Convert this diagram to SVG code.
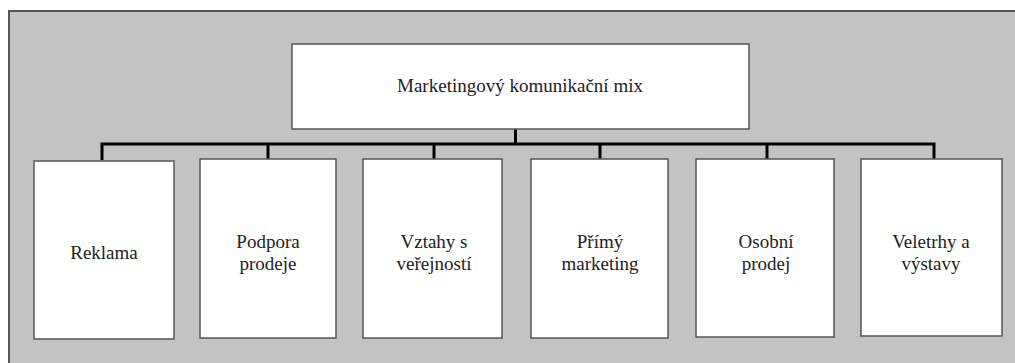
<svg xmlns="http://www.w3.org/2000/svg" width="1015" height="363" viewBox="0 0 1015 363">
<style>
.box{fill:#fff;stroke:#555;stroke-width:1.5}
.t{font-size:19px;fill:#222;text-anchor:middle}
.c{stroke:#000;stroke-width:3;fill:none}
</style>
<rect x="0" y="0" width="1015" height="363" fill="#fff"/>
<rect x="9" y="11" width="1015" height="360" fill="#c3c3c3" stroke="#555" stroke-width="2"/>
<g id="connectors">
<path class="c" d="M515.5 129V144M102 160V144H934V160M268 144V159M434 144V159M600 144V159M767 144V159"/>
</g>
<g font-family="Liberation Serif, serif">
<g id="root"><rect class="box" x="292" y="44" width="457" height="85"/><text class="t" x="520" y="92">Marketingový komunikační mix</text></g>
<g id="n1"><rect class="box" x="34" y="161" width="140" height="178"/><text class="t" x="104" y="259">Reklama</text></g>
<g id="n2"><rect class="box" x="200" y="159" width="136" height="179"/><text class="t" x="268" y="248">Podpora</text><text class="t" x="268" y="270">prodeje</text></g>
<g id="n3"><rect class="box" x="363" y="159" width="139" height="179"/><text class="t" x="434" y="248">Vztahy s</text><text class="t" x="434" y="270">veřejností</text></g>
<g id="n4"><rect class="box" x="531" y="159" width="137" height="179"/><text class="t" x="600" y="248">Přímý</text><text class="t" x="600" y="270">marketing</text></g>
<g id="n5"><rect class="box" x="696" y="159" width="138" height="178"/><text class="t" x="766" y="248">Osobní</text><text class="t" x="766" y="270">prodej</text></g>
<g id="n6"><rect class="box" x="861" y="159" width="141" height="177"/><text class="t" x="931" y="248">Veletrhy a</text><text class="t" x="931" y="270">výstavy</text></g>
</g>
</svg>
